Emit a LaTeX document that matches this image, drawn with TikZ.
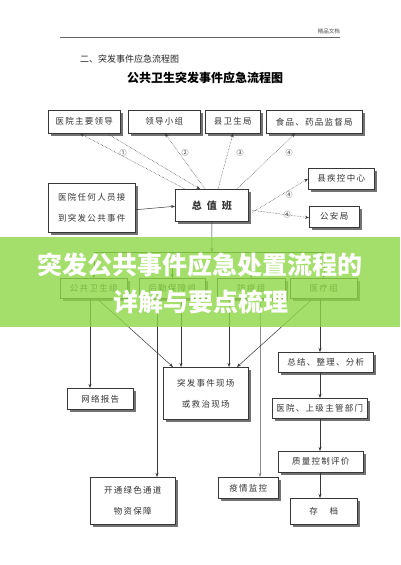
\documentclass[tikz,border=0pt]{standalone}
\usepackage{fontspec}
\setmainfont{Noto Sans CJK SC}
\newfontfamily\boxfont[LetterSpace=15]{Noto Sans CJK SC}
\usetikzlibrary{shadows,arrows.meta}
\definecolor{bannerGreen}{RGB}{140,216,69}
\definecolor{lineGray}{RGB}{55,55,55}

\begin{document}
\begin{tikzpicture}[x=1pt,y=-1pt,
  box/.style={draw=lineGray, fill=white, line width=0.5pt, inner sep=0pt, anchor=north west, align=center,
    font=\fontsize{8.5}{21}\boxfont, text=black!80,
    drop shadow={shadow xshift=3pt, shadow yshift=-3pt, fill=black!55, opacity=1}},
  link/.style={draw=lineGray, line width=0.5pt, -{Stealth[length=4pt,width=3pt]}},
  dlink/.style={link, densely dotted},
  num/.style={font=\fontsize{7}{7}\selectfont, inner sep=0pt, text=black!80}]
\useasboundingbox[fill=white] (0,0) rectangle (400,565);
\draw[black!60, line width=0.4pt] (60,37) -- (340,37);
\node[anchor=east, inner sep=0pt, font=\fontsize{5.5}{6}\selectfont, text=black!70] (brand) at (340,31) {精品文档};
\node[anchor=west, inner sep=0pt, font=\fontsize{9}{10}\selectfont, text=black!85] (section) at (80,59) {二、突发事件应急流程图};
\node[inner sep=0pt, font=\fontsize{12}{13}\selectfont\bfseries] (title) at (205,78) {公共卫生突发事件应急流程图};
\node[box, minimum width=72, minimum height=23] (lead) at (48,110) {医院主要领导};
\node[box, minimum width=72, minimum height=23] (group) at (128,110) {领导小组};
\node[box, minimum width=55, minimum height=23] (county) at (205,110) {县卫生局};
\node[box, minimum width=96, minimum height=23] (food) at (266,110) {食品、药品监督局};
\node[box, minimum width=87, minimum height=49] (report) at (48,183) {医院任何人员接\\到突发公共事件};
\node[box, minimum width=73, minimum height=32, font=\fontsize{10}{12}\selectfont\bfseries] (duty) at (175,189) {总\hspace{5pt}值\hspace{5pt}班};
\node[box, minimum width=66, minimum height=21] (cdc) at (308,168) {县疾控中心};
\node[box, minimum width=50, minimum height=21] (police) at (309,206) {公安局};
\node[box, minimum width=67, minimum height=20] (pubgrp) at (60,278) {公共卫生组};
\node[box, minimum width=66, minimum height=20] (logigrp) at (139,278) {后勤保障组};
\node[box, minimum width=68, minimum height=20] (epigrp) at (217,278) {防疫组};
\node[box, minimum width=67, minimum height=20] (medgrp) at (290,278) {医疗组};
\node[box, minimum width=66, minimum height=21] (net) at (67,388) {网络报告};
\node[box, minimum width=85, minimum height=52] (scene) at (163,367) {突发事件现场\\或救治现场};
\node[box, minimum width=95, minimum height=20] (summary) at (278,352) {总结、整理、分析};
\node[box, minimum width=95, minimum height=20] (dept) at (272,398) {医院、上级主管部门};
\node[box, minimum width=85, minimum height=21] (quality) at (278,451) {质量控制评价};
\node[box, minimum width=67, minimum height=26] (archive) at (290,498) {存\hspace{12pt}档};
\node[box, minimum width=85, minimum height=47] (supply) at (90,477) {开通绿色通道\\物资保障};
\node[box, minimum width=60, minimum height=21] (monitor) at (218,477) {疫情监控};
\draw[dlink] ([xshift=10]duty.north west) -- ([xshift=32]lead.south west);
\draw[dlink] ([xshift=59]lead.south west) -- ([xshift=25]duty.north west);
\draw[dlink] ([xshift=30]duty.north west) -- ([xshift=37]group.south west);
\draw[dlink] ([xshift=43]duty.north west) -- ([xshift=28]county.south west);
\draw[dlink] ([xshift=62]duty.north west) -- ([xshift=29]food.south west);
\node[num] (n1) at (123,153) {①};
\node[num] (n2) at (185,153) {②};
\node[num] (n3) at (240,153) {③};
\node[num] (n4) at (289,153) {④};
\draw[link] ([yshift=-2]report.east) -- ([yshift=-1]duty.west);
\draw[dlink] ([xshift=4,yshift=-7]duty.east) -- (cdc.west);
\draw[dlink] ([xshift=4,yshift=-5]duty.east) -- ([yshift=-1]police.west);
\node[num] (n5) at (289,195) {④};
\node[num] (n6) at (287,215) {④};
\coordinate (bus) at (212,252);
\draw[link] (duty.south) -- (bus);
\draw[draw=lineGray, line width=0.5pt] (pubgrp.north |- bus) -- (medgrp.north |- bus);
\draw[link] (pubgrp.north |- bus) -- (pubgrp.north);
\draw[link] (logigrp.north |- bus) -- (logigrp.north);
\draw[link] (epigrp.north |- bus) -- (epigrp.north);
\draw[link] (medgrp.north |- bus) -- (medgrp.north);
\draw[link] ([xshift=30]pubgrp.south west) -- ([xshift=23]net.north west);
\draw[link] ([xshift=37]pubgrp.south west) -- ([xshift=10]scene.north west);
\draw[link] ([xshift=18]logigrp.south west) -- ([xshift=67]supply.north west);
\draw[link] ([xshift=42]logigrp.south west) -- ([xshift=18]scene.north west);
\draw[link] ([xshift=12]epigrp.south west) -- ([xshift=66]scene.north west);
\draw[link, draw=black!45] ([xshift=43]epigrp.south west) -- ([xshift=42]monitor.north west);
\draw[link] ([xshift=23]medgrp.south west) -- ([xshift=74]scene.north west);
\draw[link] ([xshift=30]medgrp.south west) -- ([xshift=42]summary.north west);
\draw[link] ([xshift=42]summary.south west) -- ([xshift=48]dept.north west);
\draw[link] ([xshift=48]dept.south west) -- ([xshift=42]quality.north west);
\draw[link] ([xshift=42]quality.south west) -- ([xshift=30]archive.north west);
\fill[bannerGreen, opacity=0.8] (0,237) rectangle (400,327);
\node[inner sep=0pt, text=white, font=\fontsize{25}{26}\selectfont\bfseries] (headline) at (200,265) {突发公共事件应急处置流程的};
\node[inner sep=0pt, text=white, font=\fontsize{25}{26}\selectfont\bfseries] (subline) at (201,302) {详解与要点梳理};
\end{tikzpicture}
\end{document}
